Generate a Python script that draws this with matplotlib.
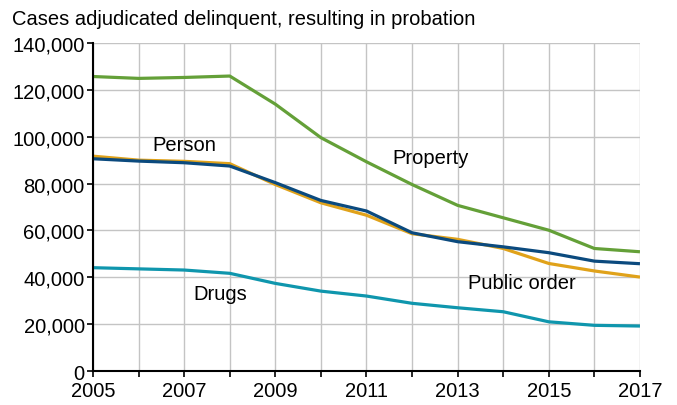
import matplotlib.pyplot as plt
import numpy as np
from matplotlib.ticker import FuncFormatter

plt.rcParams['font.family'] = ['Liberation Sans', 'DejaVu Sans']

# Data
years = np.arange(2005, 2018)
property_cases = [125700, 124900, 125300, 125900, 113900, 99600, 89300, 79600, 70700, 65400, 60100, 52300, 50900]
public_order = [91700, 90000, 89500, 88500, 79600, 71800, 66500, 58600, 56200, 52300, 45900, 42700, 40100]
person = [90600, 89600, 88900, 87500, 80400, 72800, 68300, 59000, 55200, 53000, 50500, 46900, 45800]
drugs = [44100, 43600, 43100, 41700, 37400, 34100, 32000, 28900, 27000, 25300, 21000, 19500, 19200]

fig = plt.figure(figsize=(6.77, 4.06), dpi=100)
ax = fig.add_axes([0.1374, 0.0837, 0.8079, 0.8079])

# Lines (orange drawn under the dark blue one)
ax.plot(years, property_cases, color='#64a038', linewidth=2.3, solid_capstyle='butt')
ax.plot(years, public_order, color='#e0a21a', linewidth=2.3, solid_capstyle='butt')
ax.plot(years, person, color='#0b4a7e', linewidth=2.3, solid_capstyle='butt')
ax.plot(years, drugs, color='#0f96ad', linewidth=2.3, solid_capstyle='butt')

# Direct labels
ax.text(2007.0, 96500, 'Person', fontsize=14.5, ha='center', va='center')
ax.text(2012.4, 91300, 'Property', fontsize=14.5, ha='center', va='center')
ax.text(2014.4, 37600, 'Public order', fontsize=14.5, ha='center', va='center')
ax.text(2007.8, 32900, 'Drugs', fontsize=14.5, ha='center', va='center')

# Axes setup
ax.set_xlim(2005, 2017)
ax.set_ylim(0, 140000)
ax.set_xticks(years)
ax.set_xticklabels([str(y) if y % 2 == 1 else '' for y in years])
ax.set_yticks(np.arange(0, 140001, 20000))
ax.yaxis.set_major_formatter(FuncFormatter(lambda v, p: f'{int(v):,}'))
ax.tick_params(labelsize=14.5, length=4, width=1.2, color='black')
ax.tick_params(axis='x', pad=3)
ax.tick_params(axis='y', pad=2)

ax.grid(True, color='#c4c4c4', linewidth=1)
ax.set_axisbelow(True)
for side in ['top', 'right']:
    ax.spines[side].set_visible(False)
for side in ['left', 'bottom']:
    ax.spines[side].set_linewidth(1.5)
    ax.spines[side].set_zorder(5)

# Title
fig.text(0.018, 0.953, 'Cases adjudicated delinquent, resulting in probation',
         fontsize=14.5, ha='left', va='center')

fig.savefig('out.png', dpi=100)
